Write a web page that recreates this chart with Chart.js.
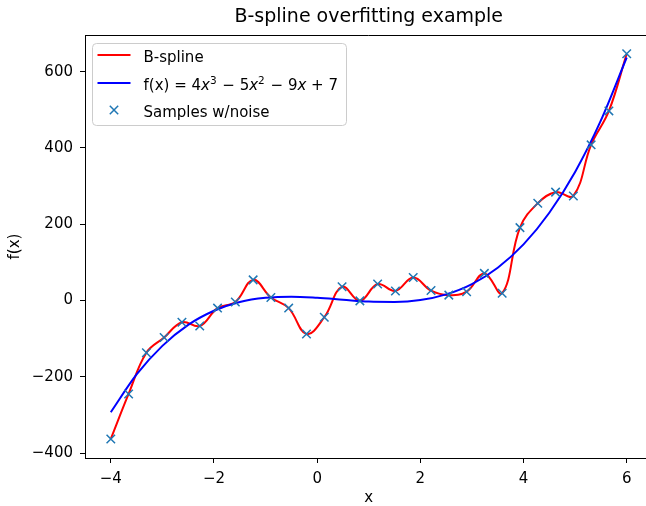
<!DOCTYPE html>
<html><head><meta charset="utf-8">
<script src="https://cdn.jsdelivr.net/npm/chart.js@4"></script>
<style>
html,body{margin:0;padding:0;overflow:hidden;background:#fff;width:646px;height:506px}
#wrap{position:absolute;left:0;top:0;width:660px;height:506px}
</style>
</head><body><div id="wrap"><canvas id="c" width="660" height="506"></canvas></div>
<script>
// ---------- data ----------
const titleText = 'B-spline overfitting example';
const xTitle = 'x';
const yTitle = 'f(x)';
const xTicks = [-4, -2, 0, 2, 4, 6];
const yTicks = [-400, -200, 0, 200, 400, 600];
const seriesNames = ['B-spline', 'f(x) = 4x³ − 5x² − 9x + 7', 'Samples w/noise'];

// noisy samples (x positions and read values)
const sampleX = [-4, -3.655, -3.31, -2.966, -2.621, -2.276, -1.931, -1.586, -1.241, -0.897,
                 -0.552, -0.207, 0.138, 0.483, 0.828, 1.172, 1.517, 1.862, 2.207, 2.552,
                 2.897, 3.241, 3.586, 3.931, 4.276, 4.621, 4.966, 5.31, 5.655, 6];
const sampleY = [-363, -245, -137, -97, -57, -67, -20, -4, 54, 8,
                 -20, -88, -44, 36, -1, 43, 25, 60, 26, 14,
                 23, 71, 19, 191, 255, 284, 274, 408, 497, 647];

// true curve
const curveX = [-4, -3.5, -3, -2.5, -2, -1.5, -1, -0.5, 0, 0.5, 1, 1.5, 2, 2.5, 3, 3.5, 4, 4.5, 5, 5.5, 6];
const curveY = [-293, -194, -119, -64, -27, -4, 7, 10, 7, 2, -3, -4, 1, 16, 43, 86, 147, 230, 337, 472, 637];

// ---------- chart ----------
const FONT = 'DejaVu Sans';
Chart.defaults.font.family = FONT;
Chart.defaults.color = '#000';

const pts = (xs, ys) => xs.map((x, i) => ({x: x, y: ys[i]}));
const fmt = v => String(v).replace('-', '\u2212');

const spines = {
  id: 'spines',
  afterDatasetsDraw(chart) {
    const {ctx, chartArea: a} = chart;
    ctx.save();
    ctx.strokeStyle = '#000';
    ctx.lineWidth = 1;
    ctx.beginPath();
    ctx.moveTo(a.left, Math.round(a.top) + 0.5);
    ctx.lineTo(a.right, Math.round(a.top) + 0.5);
    ctx.moveTo(Math.round(a.right) + 0.5, a.top);
    ctx.lineTo(Math.round(a.right) + 0.5, a.bottom);
    ctx.stroke();
    ctx.restore();
  }
};

const legendBox = {
  id: 'legendBox',
  afterDraw(chart) {
    const ctx = chart.ctx;
    const bx = 92.5, by = 43.5, bw = 254, bh = 82, r = 4;
    ctx.save();
    ctx.beginPath();
    ctx.moveTo(bx + r, by);
    ctx.arcTo(bx + bw, by, bx + bw, by + bh, r);
    ctx.arcTo(bx + bw, by + bh, bx, by + bh, r);
    ctx.arcTo(bx, by + bh, bx, by, r);
    ctx.arcTo(bx, by, bx + bw, by, r);
    ctx.closePath();
    ctx.fillStyle = 'rgba(255,255,255,0.8)';
    ctx.fill();
    ctx.strokeStyle = '#cccccc';
    ctx.lineWidth = 1;
    ctx.stroke();

    const rows = [55, 83, 110];
    const ds = chart.data.datasets;
    // line samples
    [0, 1].forEach(i => {
      ctx.strokeStyle = ds[i].borderColor;
      ctx.lineWidth = 2;
      ctx.beginPath();
      ctx.moveTo(97.5, rows[i]);
      ctx.lineTo(130.5, rows[i]);
      ctx.stroke();
    });
    // cross marker
    ctx.strokeStyle = ds[2].borderColor;
    ctx.lineWidth = 1.5;
    const cx = 114, cy = rows[2], d = 4.2;
    ctx.beginPath();
    ctx.moveTo(cx - d, cy - d); ctx.lineTo(cx + d, cy + d);
    ctx.moveTo(cx - d, cy + d); ctx.lineTo(cx + d, cy - d);
    ctx.stroke();

    // texts
    ctx.fillStyle = '#000';
    ctx.textBaseline = 'alphabetic';
    ctx.textAlign = 'left';
    const tx = 143.5, base = 6.5;
    ctx.font = '15px "' + FONT + '"';
    ctx.fillText(seriesNames[0], tx, rows[0] + base);
    ctx.fillText(seriesNames[2], tx, rows[2] + base);
    // math label with italic x and superscripts
    const segs = [
      ['f(x) = 4', 'n'], ['x', 'i'], ['3', 's'], [' \u2212 5', 'n'], ['x', 'i'], ['2', 's'],
      [' \u2212 9', 'n'], ['x', 'i'], [' + 7', 'n']
    ];
    let x = tx;
    const y = rows[1] + base;
    segs.forEach(([t, k]) => {
      if (k === 'n') ctx.font = '15px "' + FONT + '"';
      else if (k === 'i') ctx.font = 'italic 15px "' + FONT + '"';
      else ctx.font = '10.5px "' + FONT + '"';
      const yy = k === 's' ? y - 6 : y;
      ctx.fillText(t, x, yy);
      x += ctx.measureText(t).width + (k === 's' ? 1 : 0);
    });
    ctx.restore();
  }
};

new Chart(document.getElementById('c'), {
  type: 'scatter',
  data: {
    datasets: [
      {
        label: seriesNames[0],
        data: pts(sampleX, sampleY),
        showLine: true,
        borderColor: '#ff0000',
        backgroundColor: '#ff0000',
        borderWidth: 2,
        pointRadius: 0,
        tension: 0.4,
        order: 2
      },
      {
        label: seriesNames[1],
        data: pts(curveX, curveY),
        showLine: true,
        borderColor: '#0000ff',
        backgroundColor: '#0000ff',
        borderWidth: 2,
        pointRadius: 0,
        cubicInterpolationMode: 'monotone',
        order: 1
      },
      {
        label: seriesNames[2],
        data: pts(sampleX, sampleY),
        showLine: false,
        pointStyle: 'crossRot',
        pointRadius: 6,
        borderColor: '#1f77b4',
        backgroundColor: '#1f77b4',
        pointBorderWidth: 1.5,
        borderWidth: 1.5,
        order: 0
      }
    ]
  },
  options: {
    responsive: false,
    devicePixelRatio: 1,
    animation: false,
    events: [],
    layout: {padding: {left: 0, top: 0, right: 6.5, bottom: 0}},
    plugins: {
      legend: {display: false},
      tooltip: {enabled: false},
      title: {
        display: true, text: titleText, color: '#000', fullSize: false,
        font: {size: 19, weight: 'normal', lineHeight: 1.2},
        padding: {top: 6.1, bottom: 6.1}
      }
    },
    scales: {
      x: {
        type: 'linear', min: -4.5, max: 6.5,
        afterBuildTicks: s => { s.ticks = xTicks.map(v => ({value: v})); },
        afterFit: s => { s.height = 48; },
        grid: {drawOnChartArea: false, color: '#000', tickLength: 5, tickWidth: 1},
        border: {color: '#000', width: 1},
        ticks: {padding: 7, color: '#000', font: {size: 15}, callback: fmt, maxRotation: 0, autoSkip: false},
        title: {display: true, text: xTitle, color: '#000', font: {size: 15, lineHeight: 1}, padding: {top: 0, bottom: 0}}
      },
      y: {
        type: 'linear', min: -413, max: 696,
        afterBuildTicks: s => { s.ticks = yTicks.map(v => ({value: v})); },
        afterFit: s => { s.width = 85; },
        grid: {drawOnChartArea: false, color: '#000', tickLength: 5, tickWidth: 1},
        border: {color: '#000', width: 1},
        ticks: {padding: 7, color: '#000', font: {size: 15}, callback: fmt, autoSkip: false},
        title: {display: true, text: yTitle, color: '#000', font: {size: 15, lineHeight: 1}, padding: {top: 7.5, bottom: 0}}
      }
    }
  },
  plugins: [spines, legendBox]
});
</script>
</body></html>
